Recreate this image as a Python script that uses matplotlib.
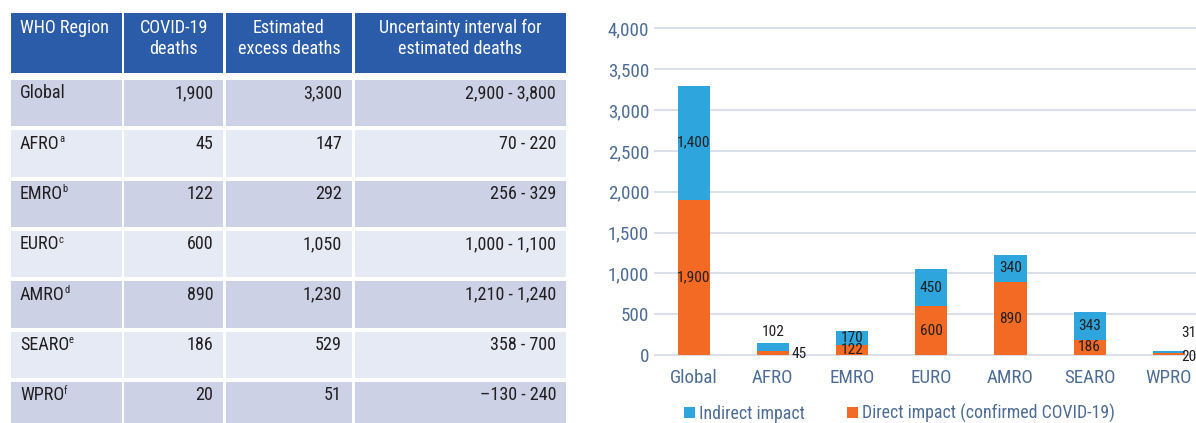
import os
import matplotlib
matplotlib.use("Agg")
import matplotlib.pyplot as plt
from matplotlib import font_manager as fm
from matplotlib.patches import Rectangle, Patch
from matplotlib.ticker import FuncFormatter, MultipleLocator

# ---------------- data ----------------
regions = ["Global", "AFRO", "EMRO", "EURO", "AMRO", "SEARO", "WPRO"]
footnotes = ["", "a", "b", "c", "d", "e", "f"]
covid_deaths = [1900, 45, 122, 600, 890, 186, 20]
excess_deaths = [3300, 147, 292, 1050, 1230, 529, 51]
interval_low = [2900, 70, 256, 1000, 1210, 358, -130]
interval_high = [3800, 220, 329, 1100, 1240, 700, 240]

header_lines = [
    ["WHO Region"],
    ["COVID-19", "deaths"],
    ["Estimated", "excess deaths"],
    ["Uncertainty interval for", "estimated deaths"],
]

categories = ["Global", "AFRO", "EMRO", "EURO", "AMRO", "SEARO", "WPRO"]
direct_impact = [1900, 45, 122, 600, 890, 186, 20]
indirect_impact = [1400, 102, 170, 450, 340, 343, 31]
legend_labels = ["Indirect impact", "Direct impact (confirmed COVID-19)"]

# ---------------- styles ----------------
HEADER_BLUE = "#2B5CA9"
ROW_DARK = "#CCD1E6"
ROW_LIGHT = "#E6EAF5"
TEXT_DARK = "#231F20"
AXIS_TEXT = "#4E6D96"
GRID = "#D6DDE9"
BLUE = "#2FA5DD"
ORANGE = "#F36A24"


def pick_narrow_font():
    """Return FontProperties for a regular narrow/condensed sans face if one is installed."""
    preferred = ["liberation sans narrow", "roboto condensed", "open sans condensed",
                 "noto sans condensed", "dejavu sans condensed", "lato condensed"]
    found = {}
    for f in fm.fontManager.ttflist:
        base = os.path.basename(f.fname).lower()
        key = (f.name + " " + base).lower()
        if not any(k in key for k in ("narrow", "condensed")):
            continue
        if any(k in base for k in ("bold", "italic", "oblique", "light", "thin",
                                   "black", "medium", "semi", "extra")):
            continue
        found.setdefault(f.name.lower(), f.fname)
        for p in preferred:
            if p.split()[0] in key and ("narrow" in key or "condensed" in key):
                found.setdefault(p, f.fname)
    for p in preferred:
        if p in found:
            return fm.FontProperties(fname=found[p])
    if found:
        return fm.FontProperties(fname=next(iter(found.values())))
    return fm.FontProperties(family=["Liberation Sans", "DejaVu Sans"])


BASE_FONT = pick_narrow_font()

W, H = 1196, 423
fig = plt.figure(figsize=(W / 100, H / 100), dpi=100)
renderer = fig.canvas.get_renderer()


def text_width(s, size):
    p = BASE_FONT.copy()
    p.set_size(size)
    w, _, _ = renderer.get_text_width_height_descent(s, p, ismath=False)
    return w


def size_for(sample, width_px):
    return 10 * width_px / text_width(sample, 10)


def fp(size):
    p = BASE_FONT.copy()
    p.set_size(size)
    return p


fs_table = size_for("WHO Region", 89)
fs_tick = size_for("4,000", 41)
fs_lab = size_for("1,900", 33)
fs_leg = size_for("Direct impact (confirmed COVID-19)", 251)

# ---------------- table (pixel coordinates) ----------------
tab = fig.add_axes([0, 0, 1, 1])
tab.set_xlim(0, W)
tab.set_ylim(H, 0)
tab.axis("off")

col_edges = [(11, 121.7), (124, 223.3), (226, 352), (354.5, 566)]
header_top, header_bottom = 12.7, 72.7
row_top0, row_pitch, row_height = 80, 50.33, 46.5


def fmt(v):
    s = f"{abs(v):,}"
    return ("\u2013" + s) if v < 0 else s


for c, (x0, x1) in enumerate(col_edges):
    tab.add_patch(Rectangle((x0, header_top), x1 - x0, header_bottom - header_top,
                            facecolor=HEADER_BLUE, edgecolor="none"))
    for k, line in enumerate(header_lines[c]):
        y = 28.3 + k * 21
        if c == 0:
            tab.text(20, y, line, color="white", fontproperties=fp(fs_table),
                     ha="left", va="center")
        else:
            tab.text((x0 + x1) / 2, y, line, color="white", fontproperties=fp(fs_table),
                     ha="center", va="center")

for i, reg in enumerate(regions):
    top = row_top0 + i * row_pitch
    shade = ROW_DARK if i % 2 == 0 else ROW_LIGHT
    for (x0, x1) in col_edges:
        tab.add_patch(Rectangle((x0, top), x1 - x0, row_height,
                                facecolor=shade, edgecolor="none"))
    ty = top + 13.2
    tab.text(20, ty, reg, color=TEXT_DARK, fontproperties=fp(fs_table), ha="left", va="center")
    if footnotes[i]:
        tab.text(20 + text_width(reg, fs_table) - 0.6, ty - 4.5, footnotes[i], color=TEXT_DARK,
                 fontproperties=fp(fs_table * 0.58), ha="left", va="center")
    cells = [fmt(covid_deaths[i]), fmt(excess_deaths[i]),
             f"{fmt(interval_low[i])} - {fmt(interval_high[i])}"]
    for (x0, x1), txt in zip(col_edges[1:], cells):
        tab.text(x1 - 10, ty, txt, color=TEXT_DARK, fontproperties=fp(fs_table),
                 ha="right", va="center")

# ---------------- stacked bar chart ----------------
ax_left = 654 / W
ax = fig.add_axes([ax_left, 64.7 / H, 1 - ax_left, (358.3 - 25.2) / H])
x = list(range(len(categories)))
bw = 0.405
ax.bar(x, direct_impact, width=bw, color=ORANGE, zorder=2)
totals = [d + n for d, n in zip(direct_impact, indirect_impact)]
ax.bar(x, indirect_impact, width=bw, bottom=direct_impact, color=BLUE, zorder=2)

ax.set_xlim(-0.5, 6.342)
ax.set_ylim(-40, 4040)
ax.yaxis.set_major_locator(MultipleLocator(500))
ax.yaxis.set_major_formatter(FuncFormatter(lambda v, p: f"{int(v):,}"))
ax.set_xticks(x)
ax.set_xticklabels(categories)
ax.grid(axis="y", color=GRID, linewidth=1.3)
ax.set_axisbelow(True)
for s in ax.spines.values():
    s.set_visible(False)
ax.tick_params(axis="both", length=0, labelcolor=AXIS_TEXT)
ax.tick_params(axis="y", pad=3.4)
ax.tick_params(axis="x", pad=7.4)
for lbl in ax.get_xticklabels() + ax.get_yticklabels():
    lbl.set_fontproperties(fp(fs_tick))
ax.patch.set_alpha(0)

# labels moved outside the bars where the segments are too thin
outside = {
    "AFRO": {"ind": (0, 8.1, "center"), "dir": (2.0, 0.7, "left")},
    "WPRO": {"ind": (-2.6, 13.2, "left"), "dir": (-2.6, -1.2, "left")},
}
for i, cat in enumerate(categories):
    d, n = direct_impact[i], indirect_impact[i]
    if cat in outside:
        dx, dy, ha = outside[cat]["ind"]
        ax_x = i if ha == "center" else i + bw / 2
        ax.annotate(f"{n:,}", (ax_x, totals[i]), xytext=(dx, dy), textcoords="offset points",
                    ha=ha, va="center", fontproperties=fp(fs_lab), color=TEXT_DARK,
                    annotation_clip=False)
        dx, dy, ha = outside[cat]["dir"]
        ax.annotate(f"{d:,}", (i + bw / 2, 0), xytext=(dx, dy), textcoords="offset points",
                    ha=ha, va="center", fontproperties=fp(fs_lab), color=TEXT_DARK,
                    annotation_clip=False)
    else:
        ax.text(i, d / 2, f"{d:,}", ha="center", va="center", fontproperties=fp(fs_lab),
                color=TEXT_DARK)
        ax.text(i, d + n / 2, f"{n:,}", ha="center", va="center", fontproperties=fp(fs_lab),
                color=TEXT_DARK)

handles = [Patch(facecolor=BLUE, edgecolor="none"), Patch(facecolor=ORANGE, edgecolor="none")]
px_leg = fs_leg * 100 / 72
fig.legend(handles, legend_labels, loc="center", bbox_to_anchor=(899 / W, 9.5 / H),
           ncol=2, frameon=False, prop=fp(fs_leg), labelcolor=AXIS_TEXT,
           handlelength=11 / px_leg, handleheight=11 / px_leg, handletextpad=4 / px_leg,
           columnspacing=42 / px_leg, borderpad=0, borderaxespad=0)

fig.savefig("out.png", dpi=100)
